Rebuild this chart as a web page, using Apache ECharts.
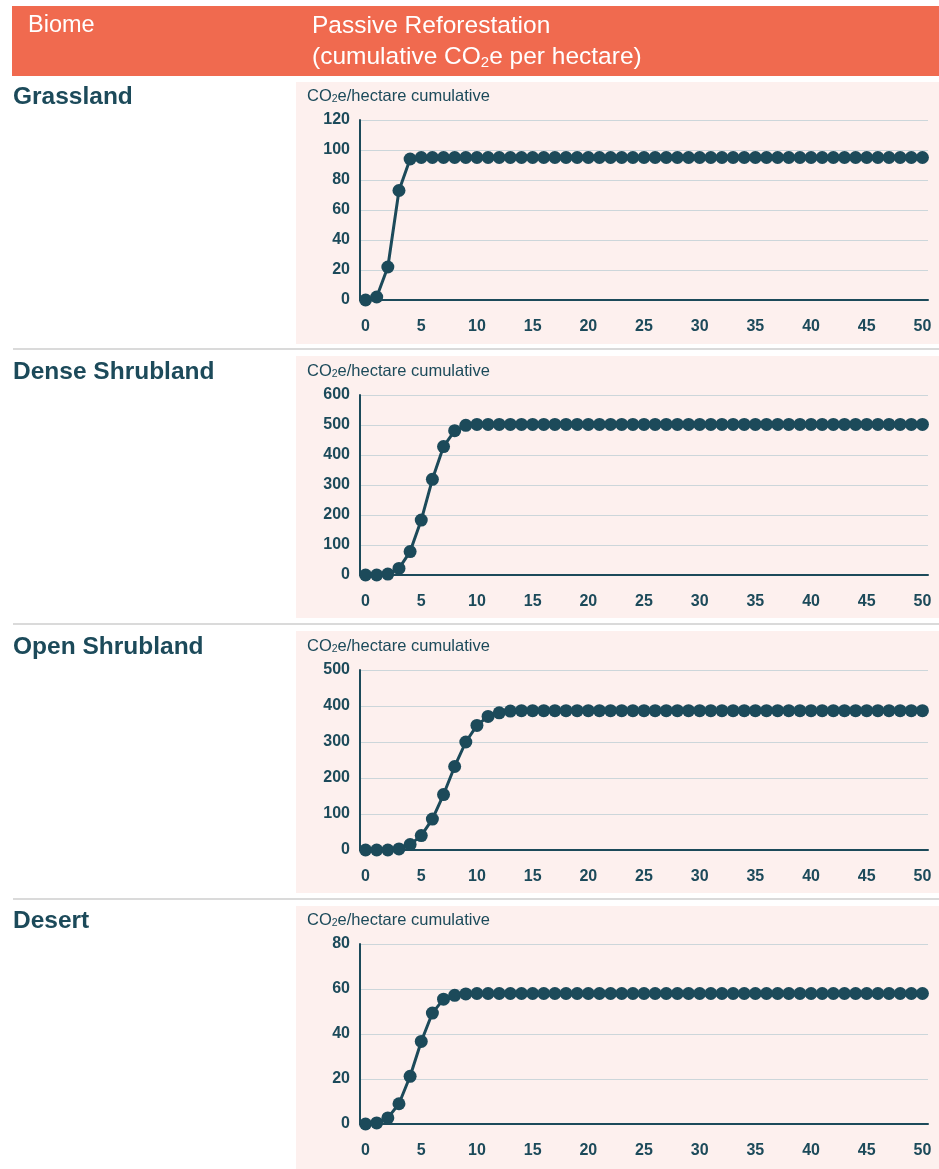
<!DOCTYPE html>
<html>
<head>
<meta charset="utf-8">
<title>Passive Reforestation – cumulative CO2e per hectare</title>
<script src="https://cdn.jsdelivr.net/npm/echarts@6/dist/echarts.min.js"></script>
<style>
  html, body { margin: 0; padding: 0; background: #ffffff; }
  #chart { width: 939px; height: 1169px; }
</style>
</head>
<body>
<div id="chart"></div>
<script>
// Years since reforestation started (x categories)
const years = [0, 1, 2, 3, 4, 5, 6, 7, 8, 9, 10, 11, 12, 13, 14, 15, 16, 17, 18, 19, 20,
  21, 22, 23, 24, 25, 26, 27, 28, 29, 30, 31, 32, 33, 34, 35, 36, 37, 38, 39, 40,
  41, 42, 43, 44, 45, 46, 47, 48, 49, 50];

// Biome names, one per row
const biomes = ['Grassland', 'Dense Shrubland', 'Open Shrubland', 'Desert'];

// Cumulative CO2e per hectare, by year
const grassland = [0, 2, 22, 73, 94, 95, 95, 95, 95, 95, 95,
  95, 95, 95, 95, 95, 95, 95, 95, 95, 95,
  95, 95, 95, 95, 95, 95, 95, 95, 95, 95,
  95, 95, 95, 95, 95, 95, 95, 95, 95, 95,
  95, 95, 95, 95, 95, 95, 95, 95, 95, 95];
const denseShrubland = [0, 0, 3, 22, 78, 183, 319, 428, 481, 499, 502,
  502, 502, 502, 502, 502, 502, 502, 502, 502, 502,
  502, 502, 502, 502, 502, 502, 502, 502, 502, 502,
  502, 502, 502, 502, 502, 502, 502, 502, 502, 502,
  502, 502, 502, 502, 502, 502, 502, 502, 502, 502];
const openShrubland = [0, 0, 0, 3, 15, 40, 86, 154, 232, 300, 346,
  371, 381, 386, 387, 387, 387, 387, 387, 387, 387,
  387, 387, 387, 387, 387, 387, 387, 387, 387, 387,
  387, 387, 387, 387, 387, 387, 387, 387, 387, 387,
  387, 387, 387, 387, 387, 387, 387, 387, 387, 387];
const desert = [0, 0.5, 2.7, 9, 21.2, 36.7, 49.3, 55.5, 57.2, 57.8, 58,
  58, 58, 58, 58, 58, 58, 58, 58, 58, 58,
  58, 58, 58, 58, 58, 58, 58, 58, 58, 58,
  58, 58, 58, 58, 58, 58, 58, 58, 58, 58,
  58, 58, 58, 58, 58, 58, 58, 58, 58, 58];

// Y axis ranges (max and tick step) for each row
const yMaxes = [120, 600, 500, 80];
const yIntervals = [20, 100, 100, 20];

const seriesData = [grassland, denseShrubland, openShrubland, desert];

const TEAL = '#1c4a5a';
const ORANGE = '#f06a4f';
const PANEL = '#fdf0ee';
const GRID_LINE = '#ccd6da';
const RULE = '#dadada';
const FONT = '"Liberation Sans", Arial, Helvetica, sans-serif';

// Row layout
const plotTops = [120, 395, 670, 944];
const plotHeight = 180;
const panelTops = [82, 356, 631, 906];
const panelHeights = [262, 262, 262, 263];
const ruleYs = [348, 623, 898];

const chart = echarts.init(document.getElementById('chart'), null, { renderer: 'canvas' });

const graphics = [];

// Header band
graphics.push({
  type: 'rect', shape: { x: 12, y: 6, width: 927, height: 70 },
  style: { fill: ORANGE }, silent: true
});
graphics.push({
  type: 'text', x: 28, y: 26,
  style: { text: 'Biome', fill: '#ffffff', font: '23.5px ' + FONT, verticalAlign: 'middle' },
  silent: true
});
graphics.push({
  type: 'text', x: 312, y: 26,
  style: { text: 'Passive Reforestation', fill: '#ffffff', font: '24.5px ' + FONT, verticalAlign: 'middle' },
  silent: true
});
graphics.push({
  type: 'text', x: 312, y: 45,
  style: {
    text: '{a|(cumulative CO}{s|2}{a|e per hectare)}',
    fill: '#ffffff',
    rich: {
      a: { fill: '#ffffff', fontSize: 24.5, fontFamily: FONT, lineHeight: 25, verticalAlign: 'bottom' },
      s: { fill: '#ffffff', fontSize: 15, fontFamily: FONT, lineHeight: 10, verticalAlign: 'bottom' }
    }
  },
  silent: true
});

// Row panels, separators and labels
for (let i = 0; i < 4; i++) {
  graphics.push({
    type: 'rect', shape: { x: 296, y: panelTops[i], width: 643, height: panelHeights[i] },
    style: { fill: PANEL }, silent: true, z: -10
  });
  graphics.push({
    type: 'text', x: 13, y: plotTops[i] - 23,
    style: { text: biomes[i], fill: TEAL, font: 'bold 24.5px ' + FONT, verticalAlign: 'middle' },
    silent: true
  });
  graphics.push({
    type: 'text', x: 307, y: plotTops[i] - 34,
    style: {
      text: '{a|CO}{s|2}{a|e/hectare cumulative}',
      fill: TEAL,
      rich: {
        a: { fill: TEAL, fontSize: 16.5, fontFamily: FONT, lineHeight: 19, verticalAlign: 'bottom' },
        s: { fill: TEAL, fontSize: 10.5, fontFamily: FONT, lineHeight: 7, verticalAlign: 'bottom' }
      }
    },
    silent: true
  });
}
for (const y of ruleYs) {
  graphics.push({
    type: 'rect', shape: { x: 13, y: y, width: 926, height: 2 },
    style: { fill: RULE }, silent: true
  });
}

const grids = [], xAxes = [], yAxes = [], series = [];
for (let i = 0; i < 4; i++) {
  grids.push({ left: 360, width: 568, top: plotTops[i], height: plotHeight, containLabel: false });
  xAxes.push({
    type: 'category', gridIndex: i, data: years, boundaryGap: true,
    axisLine: { show: true, lineStyle: { color: TEAL, width: 2 } },
    axisTick: { show: false },
    axisLabel: {
      interval: 4, margin: 19, color: TEAL, fontFamily: FONT,
      fontWeight: 'bold', fontSize: 16
    },
    splitLine: { show: false }
  });
  yAxes.push({
    type: 'value', gridIndex: i, min: 0, max: yMaxes[i], interval: yIntervals[i],
    axisLine: { show: true, lineStyle: { color: TEAL, width: 2 } },
    axisTick: { show: false },
    axisLabel: { margin: 10, color: TEAL, fontFamily: FONT, fontWeight: 'bold', fontSize: 16 },
    splitLine: { show: true, lineStyle: { color: GRID_LINE, width: 1 } }
  });
  series.push({
    type: 'line', xAxisIndex: i, yAxisIndex: i, data: seriesData[i],
    symbol: 'circle', symbolSize: 13, showAllSymbol: true,
    lineStyle: { color: TEAL, width: 3 },
    itemStyle: { color: TEAL },
    emphasis: { disabled: true },
    silent: true
  });
}

chart.setOption({
  animation: false,
  backgroundColor: '#ffffff',
  textStyle: { fontFamily: FONT },
  graphic: { elements: graphics },
  grid: grids,
  xAxis: xAxes,
  yAxis: yAxes,
  series: series
});
</script>
</body>
</html>
